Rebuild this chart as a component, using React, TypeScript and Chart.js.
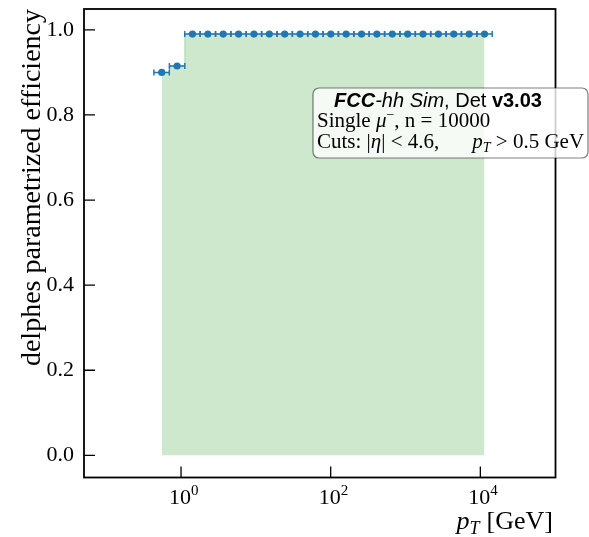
import React, { useEffect, useRef } from "react";
import { Chart, registerables } from "chart.js";

Chart.register(...registerables);

// ---- data ----
const ptCenters = [0.552, 0.886, 1.422, 2.281, 3.661, 5.875, 9.428, 15.13, 24.28, 38.96, 62.52, 100.3, 161.0, 258.4, 414.6, 665.3, 1068, 1713, 2750, 4412, 7080, 11360];
const ptLow = [0.434, 0.699, 1.121, 1.80, 2.89, 4.63, 7.44, 11.92, 19.18, 30.70, 49.33, 78.93, 127.1, 203.6, 327.5, 524.9, 842.9, 1352, 2170, 3482, 5588, 8966];
const ptHigh = [0.697, 1.123, 1.799, 2.89, 4.64, 7.44, 11.95, 19.13, 30.79, 49.29, 79.19, 126.7, 204.0, 326.9, 525.8, 842.6, 1353, 2170, 3484, 5590, 8970, 14393];
const efficiency = [0.9, 0.915, 0.99, 0.99, 0.99, 0.99, 0.99, 0.99, 0.99, 0.99, 0.99, 0.99, 0.99, 0.99, 0.99, 0.99, 0.99, 0.99, 0.99, 0.99, 0.99, 0.99];

const yTickValues = [0, 0.2, 0.4, 0.6, 0.8, 1.0];
const yTickLabels = ["0.0", "0.2", "0.4", "0.6", "0.8", "1.0"];
const xTickValues = [1, 100, 10000];
const xTickExponents = ["0", "2", "4"];
const yAxisTitle = "delphes parametrized efficiency";

const SERIF = '"Liberation Serif", "DejaVu Serif", serif';
const SANS = '"Liberation Sans", Arial, sans-serif';
const BLUE = "#1f77b4";

type Seg = { text: string; font: string; dy?: number; gap?: number };

function segWidth(ctx: CanvasRenderingContext2D, segs: Seg[]) {
  let w = 0;
  for (const s of segs) {
    ctx.font = s.font;
    w += ctx.measureText(s.text).width + (s.gap || 0);
  }
  return w;
}

function drawSegs(ctx: CanvasRenderingContext2D, segs: Seg[], x: number, y: number) {
  for (const s of segs) {
    ctx.font = s.font;
    ctx.fillText(s.text, x, y + (s.dy || 0));
    x += ctx.measureText(s.text).width + (s.gap || 0);
  }
}

export default function App() {
  const ref = useRef<HTMLCanvasElement>(null);

  useEffect(() => {
    const canvas = ref.current!;
    const overlay = {
      id: "overlay",
      afterDatasetDraw(chart: any, args: any) {
        if (args.index !== 0) return;
        const ctx: CanvasRenderingContext2D = chart.ctx;
        const xs = chart.scales.x;
        const ys = chart.scales.y;
        ctx.save();
        ctx.strokeStyle = BLUE;
        ctx.lineWidth = 1.5;
        for (let i = 0; i < ptCenters.length; i++) {
          const x1 = xs.getPixelForValue(ptLow[i]);
          const x2 = xs.getPixelForValue(ptHigh[i]);
          const y = ys.getPixelForValue(efficiency[i]);
          ctx.beginPath();
          ctx.moveTo(x1, y);
          ctx.lineTo(x2, y);
          ctx.moveTo(x1, y - 3);
          ctx.lineTo(x1, y + 3);
          ctx.moveTo(x2, y - 3);
          ctx.lineTo(x2, y + 3);
          ctx.stroke();
        }
        ctx.restore();
      },
      afterDraw(chart: any) {
        const ctx: CanvasRenderingContext2D = chart.ctx;
        const a = chart.chartArea;
        const xs = chart.scales.x;
        const ys = chart.scales.y;
        ctx.save();
        // frame
        ctx.strokeStyle = "#000";
        ctx.lineWidth = 1.8;
        ctx.strokeRect(a.left, a.top, a.right - a.left, a.bottom - a.top);
        // ticks (inward)
        ctx.lineWidth = 1.3;
        ctx.beginPath();
        for (const v of yTickValues) {
          const y = ys.getPixelForValue(v);
          ctx.moveTo(a.left, y);
          ctx.lineTo(a.left + 11, y);
        }
        for (const v of xTickValues) {
          const x = xs.getPixelForValue(v);
          ctx.moveTo(x, a.bottom);
          ctx.lineTo(x, a.bottom - 11);
        }
        ctx.stroke();

        // x tick labels: 10^n
        ctx.fillStyle = "#000";
        ctx.textBaseline = "alphabetic";
        ctx.textAlign = "left";
        xTickValues.forEach((v, i) => {
          const x = xs.getPixelForValue(v);
          const segs: Seg[] = [
            { text: "10", font: `22px ${SERIF}` },
            { text: xTickExponents[i], font: `15px ${SERIF}`, dy: -9 },
          ];
          const base = segWidth(ctx, [segs[0]]);
          drawSegs(ctx, segs, x - base / 2 - 1, a.bottom + 26);
        });

        // x axis title p_T [GeV], right aligned
        const xt: Seg[] = [
          { text: "p", font: `italic 26px ${SERIF}` },
          { text: "T", font: `italic 18px ${SERIF}`, dy: 5, gap: 7 },
          { text: "[GeV]", font: `26px ${SERIF}` },
        ];
        const xtw = segWidth(ctx, xt);
        drawSegs(ctx, xt, 553 - xtw, 529);

        // annotation box
        const bx = 313, by = 88, bw = 275, bh = 70;
        ctx.beginPath();
        (ctx as any).roundRect(bx, by, bw, bh, 6);
        ctx.fillStyle = "rgba(255,255,255,0.8)";
        ctx.fill();
        ctx.strokeStyle = "rgba(0,0,0,0.5)";
        ctx.lineWidth = 1.2;
        ctx.stroke();

        ctx.fillStyle = "#000";
        const l1: Seg[] = [
          { text: "FCC", font: `italic bold 20px ${SANS}` },
          { text: "-hh Sim", font: `italic 20px ${SANS}` },
          { text: ", Det ", font: `20px ${SANS}` },
          { text: "v3.03", font: `bold 20px ${SANS}` },
        ];
        const l1w = segWidth(ctx, l1);
        drawSegs(ctx, l1, 438 - l1w / 2, 107);

        const l2: Seg[] = [
          { text: "Single ", font: `21px ${SERIF}` },
          { text: "μ", font: `italic 21px ${SERIF}` },
          { text: "−", font: `14px ${SERIF}`, dy: -8 },
          { text: ", n = 10000", font: `21px ${SERIF}` },
        ];
        drawSegs(ctx, l2, 317, 127);

        const l3: Seg[] = [
          { text: "Cuts: |", font: `21px ${SERIF}` },
          { text: "η", font: `italic 21px ${SERIF}` },
          { text: "| < 4.6,", font: `21px ${SERIF}`, gap: 33 },
          { text: "p", font: `italic 21px ${SERIF}` },
          { text: "T", font: `italic 14px ${SERIF}`, dy: 4 },
          { text: " > 0.5 GeV", font: `21px ${SERIF}` },
        ];
        drawSegs(ctx, l3, 317, 148);
        ctx.restore();
      },
    };

    const chart = new Chart(canvas, {
      type: "line",
      data: {
        datasets: [
          {
            type: "line",
            data: ptCenters.map((x, i) => ({ x, y: efficiency[i] })),
            stepped: "middle",
            fill: "origin",
            backgroundColor: "rgba(44,160,44,0.24)",
            borderColor: "rgba(44,160,44,0.3)",
            borderWidth: 1,
            pointRadius: 0,
            order: 2,
          } as any,
          {
            type: "scatter",
            data: ptCenters.map((x, i) => ({ x, y: efficiency[i] })),
            pointRadius: 3.6,
            pointBackgroundColor: BLUE,
            backgroundColor: BLUE,
            borderWidth: 0,
            showLine: false,
            order: 1,
          } as any,
        ],
      },
      options: {
        responsive: false,
        animation: false,
        devicePixelRatio: 1,
        layout: { padding: { left: 0, top: 9, right: 33.5, bottom: 0 } },
        plugins: { legend: { display: false }, tooltip: { enabled: false } },
        scales: {
          x: {
            type: "logarithmic",
            min: 0.0505,
            max: 101000,
            grid: { display: false, drawTicks: false },
            border: { display: false },
            afterBuildTicks: (s: any) => {
              s.ticks = xTickValues.map((v) => ({ value: v }));
            },
            afterFit: (s: any) => {
              s.height = 59.5;
              s.paddingLeft = 0;
              s.paddingRight = 0;
            },
            ticks: { display: false, autoSkip: false, maxRotation: 0 },
          },
          y: {
            type: "linear",
            min: -0.052,
            max: 1.049,
            grid: { display: false, drawTicks: false },
            border: { display: false },
            afterBuildTicks: (s: any) => {
              s.ticks = yTickValues.map((v) => ({ value: v }));
            },
            afterFit: (s: any) => {
              s.width = 84;
              s.paddingTop = 0;
              s.paddingBottom = 0;
            },
            ticks: {
              autoSkip: false,
              padding: 10,
              color: "#000",
              font: { family: SERIF, size: 22 },
              callback: (v: any) => {
                const i = yTickValues.indexOf(Number(v));
                return i >= 0 ? yTickLabels[i] : "";
              },
            },
            title: {
              display: true,
              text: yAxisTitle,
              align: "end",
              color: "#000",
              font: { family: SERIF, size: 28 },
              padding: { top: 16, bottom: 0 },
            },
          },
        },
      } as any,
      plugins: [overlay],
    });
    return () => chart.destroy();
  }, []);

  return (
    <canvas
      ref={ref}
      width={589}
      height={537}
      style={{ position: "fixed", left: 0, top: 0, width: 589, height: 537 }}
    />
  );
}
